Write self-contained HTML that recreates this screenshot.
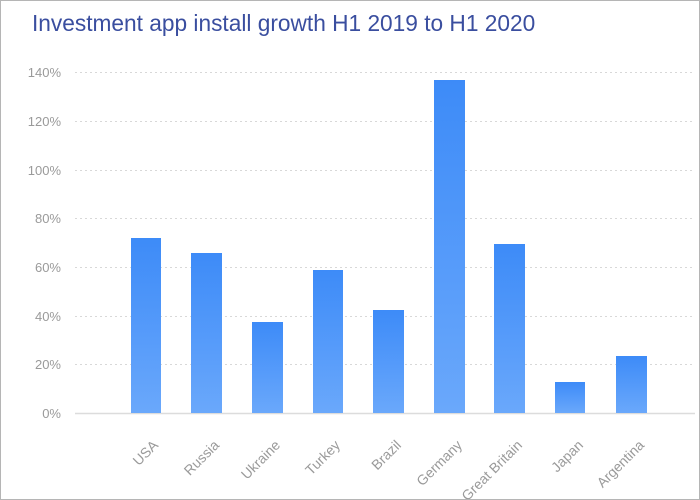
<!DOCTYPE html>
<html><head><style>
body{margin:0;background:#fff}
#c{position:relative;width:698px;height:498px;border:1px solid #b5b5b5;overflow:hidden;font-family:"Liberation Sans",sans-serif}
</style></head><body><div id="c">
<svg width="698" height="498" viewBox="1 1 698 498" xmlns="http://www.w3.org/2000/svg">
<defs><linearGradient id="g" x1="0" y1="0" x2="0" y2="1"><stop offset="0" stop-color="#3d8bf8"/><stop offset="1" stop-color="#6aa8fb"/></linearGradient></defs>
<text x="32" y="31" font-size="22.7" fill="#3a4e9f">Investment app install growth H1 2019 to H1 2020</text>
<g stroke="#d8d8d8" stroke-dasharray="2,3" stroke-width="1">
<line x1="75" x2="695" y1="72.5" y2="72.5"/><line x1="75" x2="695" y1="121.5" y2="121.5"/><line x1="75" x2="695" y1="170.5" y2="170.5"/><line x1="75" x2="695" y1="218.5" y2="218.5"/><line x1="75" x2="695" y1="267.5" y2="267.5"/><line x1="75" x2="695" y1="316.5" y2="316.5"/><line x1="75" x2="695" y1="364.5" y2="364.5"/>
</g>
<line x1="75" x2="695" y1="413.5" y2="413.5" stroke="#dcdcdc" stroke-width="1.5"/>
<g font-size="13" fill="#9a9a9a" text-anchor="end">
<text x="61" y="77">140%</text><text x="61" y="126">120%</text><text x="61" y="175">100%</text><text x="61" y="223">80%</text><text x="61" y="272">60%</text><text x="61" y="321">40%</text><text x="61" y="369">20%</text><text x="61" y="418">0%</text>
</g>
<g fill="url(#g)">
<rect x="131" y="238" width="30" height="175"/>
<rect x="191" y="253" width="31" height="160"/>
<rect x="252" y="322" width="31" height="91"/>
<rect x="313" y="270" width="30" height="143"/>
<rect x="373" y="310" width="31" height="103"/>
<rect x="434" y="80" width="31" height="333"/>
<rect x="494" y="244" width="31" height="169"/>
<rect x="555" y="382" width="30" height="31"/>
<rect x="616" y="356" width="31" height="57"/>
</g>
<g font-size="14" fill="#9a9a9a" text-anchor="end">
<text transform="translate(159,446) rotate(-45)">USA</text>
<text transform="translate(220,446) rotate(-45)">Russia</text>
<text transform="translate(281,446) rotate(-45)">Ukraine</text>
<text transform="translate(341,446) rotate(-45)">Turkey</text>
<text transform="translate(402,446) rotate(-45)">Brazil</text>
<text transform="translate(463,446) rotate(-45)">Germany</text>
<text transform="translate(523,446) rotate(-45)">Great Britain</text>
<text transform="translate(584,446) rotate(-45)">Japan</text>
<text transform="translate(645,446) rotate(-45)">Argentina</text>
</g>
</svg></div></body></html>
